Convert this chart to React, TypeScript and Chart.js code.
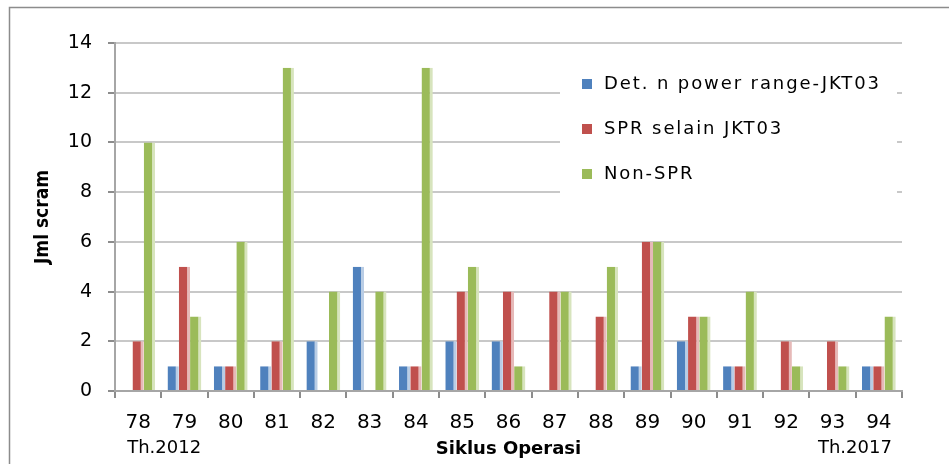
import React, { useEffect, useRef } from 'react';
import { Chart, registerables } from 'chart.js';

Chart.register(...registerables);

const categories = ['78', '79', '80', '81', '82', '83', '84', '85', '86', '87', '88', '89', '90', '91', '92', '93', '94'];
const detPowerRange = [0, 1, 1, 1, 2, 5, 1, 2, 2, 0, 0, 1, 2, 1, 0, 0, 1];
const sprSelain = [2, 5, 1, 2, 0, 0, 1, 4, 4, 4, 3, 6, 3, 1, 2, 2, 1];
const nonSpr = [10, 3, 6, 13, 4, 4, 13, 5, 1, 4, 5, 6, 3, 4, 1, 1, 3];
const seriesNames = ['Det. n power range-JKT03', 'SPR selain JKT03', 'Non-SPR'];
const periodLabels = ['Th.2012', 'Th.2017'];
const yTitle = 'Jml scram';
const xTitle = 'Siklus Operasi';

const FONT = '"DejaVu Sans", sans-serif';
const NARROW = '"Liberation Sans Narrow", "DejaVu Sans Condensed", sans-serif';

const framePlugin = {
  id: 'frame',
  beforeDraw(chart: any) {
    const { ctx, width, height } = chart;
    ctx.save();
    ctx.fillStyle = '#ffffff';
    ctx.fillRect(0, 0, width, height);
    ctx.strokeStyle = '#8c8c8c';
    ctx.lineWidth = 1.5;
    ctx.beginPath();
    ctx.moveTo(9.5, height);
    ctx.lineTo(9.5, 7.5);
    ctx.lineTo(width, 7.5);
    ctx.stroke();
    ctx.restore();
  },
};

const overlayPlugin = {
  id: 'overlay',
  afterDatasetsDraw(chart: any) {
    const { ctx } = chart;
    const x = chart.scales.x;
    ctx.save();
    // legend box inside plot
    ctx.fillStyle = '#ffffff';
    ctx.fillRect(560, 55, 337, 138);
    ctx.font = '18px ' + FONT;
    ctx.textBaseline = 'middle';
    ctx.textAlign = 'left';
    try { (ctx as any).letterSpacing = '1.9px'; } catch (e) {}
    const rows = [84, 129, 174];
    chart.data.datasets.forEach((ds: any, i: number) => {
      ctx.fillStyle = ds.backgroundColor;
      ctx.fillRect(582, rows[i] - 5, 10, 10);
      ctx.fillStyle = '#000000';
      ctx.fillText(ds.label, 604, rows[i]);
    });
    try { (ctx as any).letterSpacing = '0px'; } catch (e) {}
    // period labels under first and last category
    ctx.font = '18px ' + FONT;
    ctx.fillStyle = '#000000';
    ctx.textBaseline = 'middle';
    ctx.textAlign = 'left';
    ctx.fillText(periodLabels[0], x.getPixelForValue(0) - 11, 448);
    ctx.textAlign = 'right';
    ctx.fillText(periodLabels[1], x.getPixelForValue(categories.length - 1) + 13, 448);
    ctx.restore();
  },
};

const edge = { right: 3, left: 0, top: 0, bottom: 0 };

export default function App() {
  const ref = useRef<HTMLCanvasElement>(null);
  useEffect(() => {
    document.body.style.margin = '0';
    const canvas = ref.current;
    if (!canvas) return;
    const chart = new Chart(canvas, {
      type: 'bar',
      data: {
        labels: categories,
        datasets: [
          { label: seriesNames[0], data: detPowerRange, backgroundColor: '#4F81BD', borderColor: '#b9cde5', borderWidth: edge, borderSkipped: false },
          { label: seriesNames[1], data: sprSelain, backgroundColor: '#C0504D', borderColor: '#e6b9b8', borderWidth: edge, borderSkipped: false },
          { label: seriesNames[2], data: nonSpr, backgroundColor: '#9BBB59', borderColor: '#d7e4bd', borderWidth: edge, borderSkipped: false },
        ],
      },
      options: {
        animation: false,
        responsive: false,
        maintainAspectRatio: false,
        devicePixelRatio: 1,
        layout: { padding: { left: 12, top: 43, right: 47, bottom: 0 } },
        plugins: {
          legend: { display: false },
          tooltip: { enabled: false },
        },
        datasets: {
          bar: { categoryPercentage: 0.73, barPercentage: 1.0 },
        },
        scales: {
          x: {
            afterFit: (s: any) => { s.height = 73; },
            grid: { drawOnChartArea: false, drawTicks: true, tickLength: 7, tickColor: '#8c8c8c', lineWidth: 2 },
            border: { display: true, color: '#a6a6a6', width: 2 },
            ticks: { color: '#000000', font: { family: FONT, size: 20 }, padding: 13, maxRotation: 0, autoSkip: false },
            title: { display: true, text: xTitle, color: '#000000', font: { family: FONT, size: 18, weight: 'bold' }, padding: { top: 0, bottom: 4 } },
          },
          y: {
            min: 0,
            max: 14,
            afterFit: (s: any) => { s.width = 103; },
            grid: {
              color: '#c8c8c8',
              lineWidth: 2,
              drawTicks: true,
              tickLength: 7,
              tickColor: (c: any) => (c.tick && c.tick.value % 2 === 0 ? '#8c8c8c' : 'rgba(0,0,0,0)'),
            },
            border: { display: true, color: '#a6a6a6', width: 2 },
            ticks: {
              stepSize: 1,
              color: '#000000',
              font: { family: FONT, size: 19 },
              padding: 16,
              callback: (v: any) => (Number(v) % 2 === 0 ? String(v) : ''),
            },
            title: { display: true, text: yTitle, color: '#000000', font: { family: NARROW, size: 19, weight: 'bold' }, padding: { top: 20, bottom: 0 } },
          },
        },
      },
      plugins: [framePlugin, overlayPlugin],
    } as any);
    return () => chart.destroy();
  }, []);
  return (
    <div style={{ width: 949, height: 464 }}>
      <canvas ref={ref} width={949} height={464} style={{ display: 'block', width: 949, height: 464 }} />
    </div>
  );
}
